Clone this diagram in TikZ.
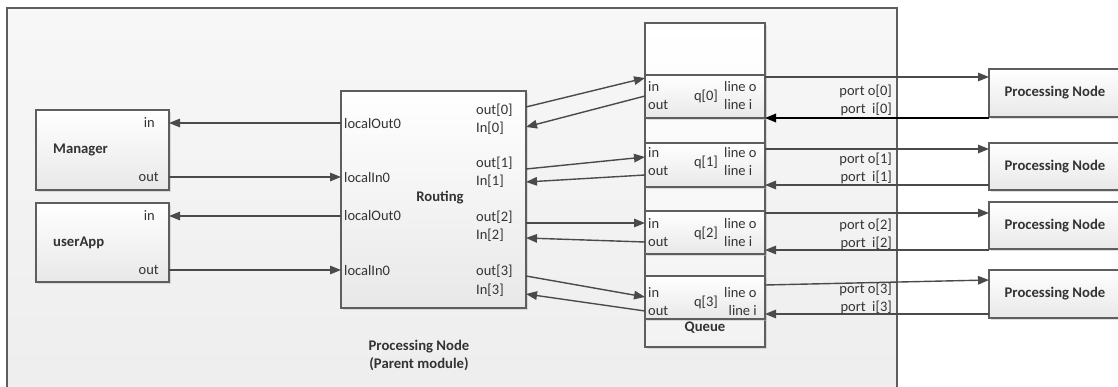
\documentclass[tikz,border=0pt]{standalone}
\usepackage{fontspec}
\setmainfont{Carlito}
\usetikzlibrary{arrows.meta,shadows}
\definecolor{ln}{HTML}{4A4A4A}
\definecolor{tx}{HTML}{333333}
\definecolor{bd}{HTML}{5E5E5E}
\tikzset{
  box/.style={draw=bd, line width=1.5pt, top color=white, bottom color=black!9,
    drop shadow={shadow xshift=2pt,shadow yshift=-2pt,fill=black!25,opacity=0.5},
    inner sep=0pt, outer sep=0pt, anchor=north west},
  plain/.style={draw=bd, line width=1.5pt, inner sep=0pt, outer sep=0pt, anchor=north west},
  lbl/.style={text=tx, font=\fontsize{14.5}{17}\selectfont, inner sep=0pt},
  blbl/.style={text=tx, font=\fontsize{14.7}{18}\selectfont\bfseries, inner sep=0pt},
  arr/.style={draw=ln, line width=1.4pt, -{Triangle[length=11pt,width=8.5pt]}},
}
\begin{document}
\begin{tikzpicture}[x=1pt,y=-1pt]
\clip (0,0) rectangle (1118,387);
% parent module
\node[plain, top color=white!97!black, bottom color=black!7, minimum width=890pt, minimum height=400pt] (parent) at (7,8) {};
% boxes
\node[box, minimum width=133pt, minimum height=80pt] (manager) at (36,110) {};
\node[box, minimum width=133pt, minimum height=79pt] (userapp) at (36,203) {};
\node[box, minimum width=185pt, minimum height=217pt] (routing) at (341,91) {};
\node[box, top color=white, bottom color=white!95!black, minimum width=120pt, minimum height=324pt] (queue) at (645,23) {};
\node[box, drop shadow={opacity=0}, minimum width=120pt, minimum height=43pt] (qs0) at (645,75) {};
\node[box, drop shadow={opacity=0}, minimum width=120pt, minimum height=44pt] (qs1) at (645,143) {};
\node[box, drop shadow={opacity=0}, minimum width=120pt, minimum height=43pt] (qs2) at (645,211) {};
\node[box, drop shadow={opacity=0}, minimum width=120pt, minimum height=43pt] (qs3) at (645,276) {};
\node[box, minimum width=132pt, minimum height=48pt, blbl] (pn0) at (989,69) {Processing Node};
\node[box, minimum width=132pt, minimum height=47pt, blbl] (pn1) at (989,143) {Processing Node};
\node[box, minimum width=132pt, minimum height=47pt, blbl] (pn2) at (989,202) {Processing Node};
\node[box, minimum width=132pt, minimum height=48pt, blbl] (pn3) at (989,270) {Processing Node};

% left connectors
\draw[arr] (routing.west |- 0,123) -- (manager.east |- 0,123);
\draw[arr] (manager.east |- 0,177) -- (routing.west |- 0,177);
\draw[arr] (routing.west |- 0,216) -- (userapp.east |- 0,216);
\draw[arr] (userapp.east |- 0,270) -- (routing.west |- 0,270);
% routing <-> queue
\draw[arr] (routing.east |- 0,107) -- (qs0.west |- 0,78);
\draw[arr] (qs0.west |- 0,96) -- (routing.east |- 0,127);
\draw[arr] (routing.east |- 0,169) -- (qs1.west |- 0,157);
\draw[arr] (qs1.west |- 0,175) -- (routing.east |- 0,182);
\draw[arr] (routing.east |- 0,223) -- (qs2.west |- 0,223);
\draw[arr] (qs2.west |- 0,242) -- (routing.east |- 0,238);
\draw[arr] (routing.east |- 0,276) -- (qs3.west |- 0,297);
\draw[arr] (qs3.west |- 0,311) -- (routing.east |- 0,294);
% queue <-> processing nodes
\draw[arr] (qs0.east |- 0,77) -- (pn0.west |- 0,77);
\draw[arr, draw=black, line width=1.8pt] (pn0.west |- 0,118) -- (qs0.east |- 0,118);
\draw[arr] (qs1.east |- 0,149) -- (pn1.west |- 0,149);
\draw[arr] (pn1.west |- 0,185) -- (qs1.east |- 0,185);
\draw[arr] (qs2.east |- 0,213) -- (pn2.west |- 0,213);
\draw[arr] (pn2.west |- 0,250) -- (qs2.east |- 0,250);
\draw[arr] (qs3.east |- 0,285) -- (pn3.west |- 0,280);
\draw[arr] (pn3.west |- 0,314) -- (qs3.east |- 0,314);

% Manager / userApp labels
\node[lbl, anchor=east] (mgrin) at (155,123) {in};
\node[lbl, anchor=east] (mgrout) at (159,177) {out};
\node[blbl, anchor=west] (mgrname) at (53,150) {Manager};
\node[lbl, anchor=east] (appin) at (155,216) {in};
\node[lbl, anchor=east] (appout) at (159,270) {out};
\node[blbl, anchor=west] (appname) at (53,243) {userApp};

% Routing labels
\node[lbl, anchor=west] (rlo0) at (344,124) {localOut0};
\node[lbl, anchor=west] (rli0) at (344,178) {localIn0};
\node[lbl, anchor=west] (rlo1) at (344,216) {localOut0};
\node[lbl, anchor=west] (rli1) at (344,271) {localIn0};
\node[blbl] (rname) at (440,198) {Routing};
\node[lbl, anchor=west] (ro0) at (476,110) {out[0]};
\node[lbl, anchor=west] (ri0) at (476,128) {In[0]};
\node[lbl, anchor=west] (ro1) at (476,163) {out[1]};
\node[lbl, anchor=west] (ri1) at (476,181) {In[1]};
\node[lbl, anchor=west] (ro2) at (476,217) {out[2]};
\node[lbl, anchor=west] (ri2) at (476,235) {In[2]};
\node[lbl, anchor=west] (ro3) at (476,271) {out[3]};
\node[lbl, anchor=west] (ri3) at (476,290) {In[3]};

% Queue labels
\foreach \i/\y in {0/87,1/153,2/224,3/293}{
  \node[lbl, anchor=west] (qin\i) at (648,\y) {in};
  \node[lbl, anchor=west] (qout\i) at (648,\y+18) {out};
  \node[lbl] (qname\i) at (706,\y+9) {q[\i]};
  \node[lbl, anchor=west] (qlo\i) at (724,\y) {line o};
}
\node[lbl, anchor=west] (qli0) at (724,105) {line i};
\node[lbl, anchor=west] (qli1) at (724,171) {line i};
\node[lbl, anchor=west] (qli2) at (724,242) {line i};
\node[lbl, anchor=east] (qli3) at (757,311) {line i};
\node[blbl] (qtitle) at (705,328) {Queue};

% port labels
\foreach \i/\y in {0/91,1/159,2/225,3/289}{
  \node[lbl, anchor=east] (po\i) at (892,\y) {port o[\i]};
  \node[lbl, anchor=east] (pi\i) at (892,\y+18) {port\ \ i[\i]};
}

% parent title
\node[blbl, align=center] (ptitle) at (419,355) {Processing Node\\(Parent module)};
\end{tikzpicture}
\end{document}
